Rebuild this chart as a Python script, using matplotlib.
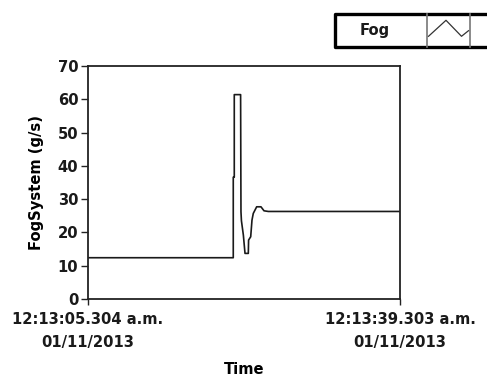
import matplotlib
matplotlib.use('Agg')
import matplotlib.pyplot as plt

### Data (seconds after 12:13:05.304 a.m.)
time_s = [0.0, 15.83, 15.83, 15.94, 15.94, 16.63, 16.67, 16.72, 16.93, 17.11,
          17.47, 17.50, 17.73, 17.87, 18.01, 18.38, 18.85, 19.18, 19.65, 34.0]
fog_gs = [12.4, 12.4, 36.6, 36.6, 61.4, 61.4, 26.2, 23.5, 19.2, 13.7,
          13.7, 17.7, 18.7, 23.7, 25.7, 27.7, 27.7, 26.5, 26.3, 26.3]

x_tick_pos = [0.0, 34.0]
x_tick_lab = ['12:13:05.304 a.m.\n01/11/2013', '12:13:39.303 a.m.\n01/11/2013']
y_ticks = [0, 10, 20, 30, 40, 50, 60, 70]
legend_name = 'Fog'

W, H = 487, 385
plt.rcParams['font.family'] = 'DejaVu Sans'
plt.rcParams['font.weight'] = 'bold'
plt.rcParams['font.size'] = 10.6

fig = plt.figure(figsize=(W/100., H/100.), dpi=100)
ax = fig.add_axes([88./W, (H-299.)/H, 312./W, 233./H])
ax.plot(time_s, fog_gs, color='#1a1a1a', lw=1.2)
ax.set_xlim(0, 34.0)
ax.set_ylim(0, 70)
ax.set_yticks(y_ticks)
ax.set_xticks(x_tick_pos)
ax.set_xticklabels(x_tick_lab, ha='center', linespacing=1.7)
for s in ax.spines.values():
  s.set_linewidth(1.3)
  s.set_color('#222222')
ax.tick_params(axis='y', length=5, width=1, pad=2, colors='#222222', labelcolor='#1a1a1a')
ax.tick_params(axis='x', length=4, width=1, pad=5, colors='#222222', labelcolor='#1a1a1a')
ax.set_ylabel('FogSystem (g/s)', fontweight='bold', labelpad=10)
ax.set_xlabel('Time', fontweight='bold', labelpad=9)

# Legend box at top right
lx0, ly0, lx1, ly1 = 334., 12., 487., 48.
leg = fig.add_axes([lx0/W, 1-ly1/H, (lx1-lx0)/W, (ly1-ly0)/H])
leg.set_xlim(lx0, lx1)
leg.set_ylim(ly1, ly0)
leg.axis('off')
leg.plot([lx1+5, lx0+1.5, lx0+1.5, lx1+5], [ly0+1.5, ly0+1.5, ly1-1.5, ly1-1.5],
         color='black', lw=2.4, clip_on=False)
leg.plot([427.5, 427.5], [ly0+1.5, ly1-1.5], color='#777777', lw=1.2)
leg.plot([470, 470], [ly0+1.5, ly1-1.5], color='#777777', lw=1.2)
leg.plot([428.5, 446, 461.5, 468.5], [36.3, 20.3, 36.3, 30.7], color='#333333', lw=0.9)
leg.text(375, 30.5, legend_name, ha='center', va='center', fontweight='bold', color='#1a1a1a')

fig.savefig('out.png', dpi=100)
